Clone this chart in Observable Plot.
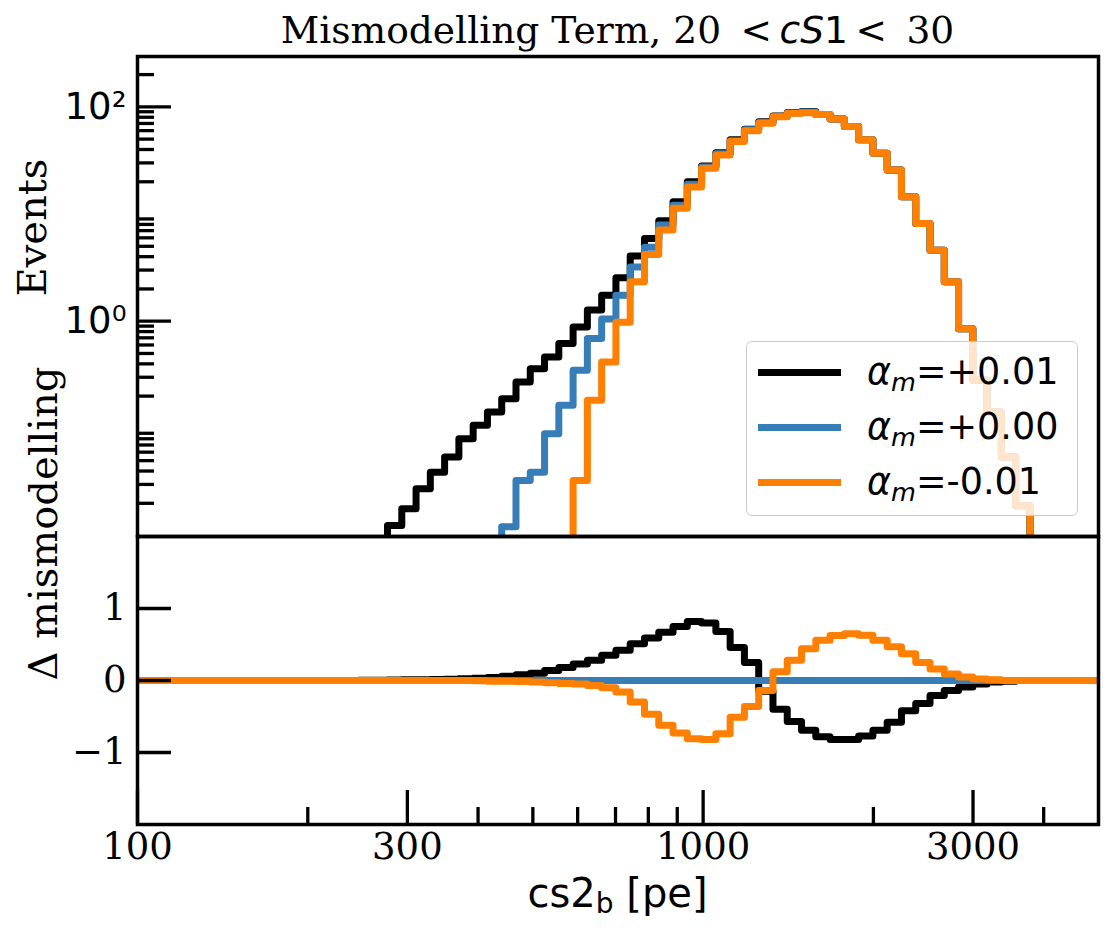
<!DOCTYPE html>
<html>
<head>
<meta charset="utf-8">
<script src="https://cdn.jsdelivr.net/npm/d3@7"></script>
<script src="https://cdn.jsdelivr.net/npm/@observablehq/plot@0.6"></script>
<style>
  body { margin: 0; background: #fff; }
  #fig { position: relative; width: 1113px; height: 934px; background: #fff; overflow: hidden; }
  #fig svg { position: absolute; left: 0; overflow: visible; background: transparent; }
  #title {
    position: absolute; left: 137px; width: 961px; top: 8px; line-height: 44px;
    text-align: center; white-space: nowrap;
    font-family: "DejaVu Serif"; font-size: 37.6px; color: #000;
  }
  .math { font-family: "DejaVu Sans"; }
  #xlabel {
    position: absolute; left: 137px; width: 961px; top: 870px; line-height: 47px;
    text-align: center; white-space: nowrap;
    font-family: "DejaVu Sans"; font-size: 40px; color: #000;
  }
  #xlabel .sub { font-size: 0.7em; vertical-align: -6px; }
  #legend {
    position: absolute; left: 746px; top: 341px; width: 330px; height: 173px;
    background: rgba(255,255,255,0.8); border: 1.5px solid #cccccc; border-radius: 6px;
  }
  #legend .row { position: absolute; left: 0; height: 50px; width: 100%; }
  #legend .swatch { position: absolute; left: 11px; top: 21.5px; width: 83px; height: 7px; }
  #legend .lbl {
    position: absolute; left: 120px; top: 0; line-height: 50px; white-space: nowrap;
    font-family: "DejaVu Sans"; font-size: 36.5px; color: #000;
  }
  #legend .msub { font-size: 0.7em; vertical-align: -7px; font-style: italic; }
</style>
</head>
<body>
<div id="fig">
  <div id="title">Mismodelling Term, 20 &#8201;<span class="math">&lt;&#8201;<i>cS</i>1&#8201;&lt;</span>&#8201; 30</div>
</div>
<script>
// Log-spaced cs2_b bins (pe)
const binLo = 97.2;
const binHi = 5058;
const nBins = 68;

// Events per bin, one value per bin
const eventsPlus = [
  0, 0, 0, 0, 0, 0, 0, 0, 0, 0, 0, 0, 0, 0, 0, 0, 0, 0,
  0.0124, 0.0178, 0.0273, 0.039, 0.054, 0.080, 0.107, 0.142, 0.189, 0.271,
  0.361, 0.464, 0.618, 0.885, 1.27, 1.75, 2.55, 4.05, 5.9, 8.65,
  13.0, 20.0, 28.1, 37.4, 49.2, 61.9, 72.8, 82.3, 88.4, 90.3,
  85, 77, 65.5, 49.2, 36.9, 25.8, 14.5, 8.18, 4.6, 2.33,
  0.85, 0.281, 0.142, 0.054, 0.019,
  0, 0, 0, 0, 0
];
const eventsZero = [
  0, 0, 0, 0, 0, 0, 0, 0, 0, 0, 0, 0, 0, 0, 0, 0, 0, 0, 0, 0, 0, 0, 0, 0, 0, 0,
  0.0121, 0.0327, 0.039, 0.089, 0.164, 0.348, 0.689, 1.05, 1.75, 3.2,
  4.9, 7.9, 12.1, 19.0, 27.5, 36.5, 48.3, 61, 71.5, 81.5,
  87.5, 89.5, 85, 77, 65.5,
  49.2, 36.9, 25.8, 14.5, 8.18, 4.6, 2.33, 0.85, 0.281, 0.142, 0.054, 0.019,
  0, 0, 0, 0, 0
];
const eventsMinus = [
  0, 0, 0, 0, 0, 0, 0, 0, 0, 0, 0, 0, 0, 0, 0, 0, 0, 0, 0, 0,
  0, 0, 0, 0, 0, 0, 0, 0, 0, 0, 0,
  0.0327, 0.183, 0.417, 0.98, 2.33, 4.2, 7.08, 11.3, 17.9, 26.7,
  35.6, 47.5, 60, 70.3, 81, 87, 88.3, 85, 77, 65.5,
  49.2, 36.9, 25.8, 14.5, 8.18, 4.6, 2.33, 0.85, 0.281, 0.142, 0.054, 0.019,
  0, 0, 0, 0, 0
];

// Mismodelling difference per bin
const deltaPlus = [
  0, 0, 0, 0, 0, 0, 0, 0, 0, 0, 0, 0, 0, 0, 0, 0,
  0.003, 0.005, 0.008, 0.01, 0.012, 0.015, 0.018, 0.025, 0.03, 0.04,
  0.06, 0.08, 0.10, 0.14, 0.18, 0.23, 0.28, 0.35, 0.42, 0.51,
  0.59, 0.67, 0.75, 0.82, 0.80, 0.68, 0.46, 0.25, -0.15, -0.40,
  -0.57, -0.69, -0.78, -0.82, -0.82, -0.77, -0.69, -0.58, -0.42, -0.32,
  -0.21, -0.14, -0.09, -0.05, -0.02, -0.01,
  0, 0, 0, 0, 0, 0
];
const deltaZero = new Array(nBins).fill(0);
const deltaMinus = [
  0, 0, 0, 0, 0, 0, 0, 0, 0, 0, 0, 0, 0, 0, 0, 0, 0, 0, 0, 0, 0, 0, 0, 0,
  -0.005, -0.01, -0.01, -0.015, -0.02, -0.03, -0.04, -0.05, -0.07, -0.10,
  -0.16, -0.30, -0.47, -0.62, -0.73, -0.81, -0.82, -0.74, -0.51, -0.36,
  -0.14, 0.12, 0.28, 0.44, 0.56, 0.625, 0.65, 0.63, 0.56, 0.47,
  0.37, 0.25, 0.16, 0.09, 0.05, 0.02, 0.01,
  0, 0, 0, 0, 0, 0, 0
];

const seriesValues = ["+0.01", "+0.00", "-0.01"];
const seriesColors = ["#000000", "#377eb8", "#ff7f00"];

// Axes
const xDomain = [100, 5000];
const eventsDomain = [0.0098, 295];
const deltaDomain = [-2, 2];
const xLabelTicks = [100, 300, 1000, 3000];
const xMinorTicks = [200, 400, 500, 600, 700, 800, 900, 2000, 4000];
const eventsMajorTicks = [1, 100];
const eventsTickLabels = {1: "10⁰", 100: "10²"};
const eventsMinorTicks = [
  0.02, 0.03, 0.04, 0.05, 0.06, 0.07, 0.08, 0.09,
  0.2, 0.3, 0.4, 0.5, 0.6, 0.7, 0.8, 0.9,
  2, 3, 4, 5, 6, 7, 8, 9,
  20, 30, 40, 50, 60, 70, 80, 90, 200
];
const deltaTicks = [-1, 0, 1];

const edges = d3.range(nBins + 1).map(i => binLo * Math.pow(binHi / binLo, i / nBins));
function steps(values) {
  const pts = values.map((v, i) => ({x: edges[i], v}));
  pts.push({x: edges[nBins], v: values[nBins - 1]});
  return pts;
}

const W = 1113;
const mL = 137, mR = 15;
const plotW = W - mL - mR;
const lw = 7, frameW = 3.5, tickW = 3.3, majLen = 34, minLen = 17;
const eventsFloor = eventsDomain[0] / 100; // empty bins fall below the frame

// Upper panel: event histograms
const topH = 540, topMT = 56, topMB = 4;
const upperPanel = Plot.plot({
  width: W, height: topH,
  marginLeft: mL, marginRight: mR, marginTop: topMT, marginBottom: topMB,
  style: {background: "transparent", overflow: "visible"},
  x: {type: "log", domain: xDomain, axis: null},
  y: {type: "log", domain: eventsDomain},
  marks: [
    [eventsPlus, eventsZero, eventsMinus].map((vals, i) =>
      Plot.line(steps(vals), {
        x: "x", y: d => Math.max(d.v, eventsFloor), curve: "step-after",
        stroke: seriesColors[i], strokeWidth: lw, strokeLinejoin: "round", clip: true
      })),
    Plot.tickY(eventsMinorTicks, {y: d => d, insetRight: plotW - minLen, stroke: "#000", strokeWidth: tickW}),
    Plot.tickY(eventsMajorTicks, {y: d => d, insetRight: plotW - majLen, stroke: "#000", strokeWidth: tickW}),
    Plot.axisY(eventsMajorTicks, {
      tickSize: 0, tickPadding: 11, tickFormat: d => eventsTickLabels[d], label: null,
      fontSize: 37, fontFamily: "DejaVu Sans", fill: "#000"
    }),
    Plot.frame({stroke: "#000", strokeWidth: frameW}),
    Plot.text(["Events"], {
      text: d => d, frameAnchor: "left", dx: -104, rotate: -90,
      fontSize: 40, fontFamily: "DejaVu Serif", fill: "#000", lineAnchor: "middle"
    })
  ]
});
upperPanel.style.top = "0px";

// Lower panel: mismodelling difference
const botTop = 530, botH = 934 - botTop, botMT = 6, botMB = 110;
const botPlotH = botH - botMT - botMB;
const lowerPanel = Plot.plot({
  width: W, height: botH,
  marginLeft: mL, marginRight: mR, marginTop: botMT, marginBottom: botMB,
  style: {background: "transparent", overflow: "visible"},
  x: {type: "log", domain: xDomain},
  y: {domain: deltaDomain},
  marks: [
    [deltaPlus, deltaZero, deltaMinus].map((vals, i) =>
      Plot.line(steps(vals), {
        x: "x", y: "v", curve: "step-after",
        stroke: seriesColors[i], strokeWidth: lw, strokeLinejoin: "round", clip: true
      })),
    Plot.tickX(xMinorTicks, {x: d => d, insetTop: botPlotH - minLen, stroke: "#000", strokeWidth: tickW}),
    Plot.tickX(xLabelTicks, {x: d => d, insetTop: botPlotH - majLen, stroke: "#000", strokeWidth: tickW}),
    Plot.tickY(deltaTicks, {y: d => d, insetRight: plotW - majLen, stroke: "#000", strokeWidth: tickW}),
    Plot.axisX(xLabelTicks, {
      tickSize: 0, tickPadding: 8, tickFormat: d => String(d), label: null,
      fontSize: 37, fontFamily: "DejaVu Serif", fill: "#000"
    }),
    Plot.axisY(deltaTicks, {
      tickSize: 0, tickPadding: 11, tickFormat: d => (d < 0 ? "\u2212" + (-d) : String(d)), label: null,
      fontSize: 37, fontFamily: "DejaVu Serif", fill: "#000"
    }),
    Plot.frame({stroke: "#000", strokeWidth: frameW}),
    Plot.text(["\u0394 mismodelling"], {
      text: d => d, frameAnchor: "left", dx: -93, rotate: -90,
      fontSize: 40, fontFamily: "DejaVu Serif", fill: "#000", lineAnchor: "middle"
    })
  ]
});
lowerPanel.style.top = botTop + "px";

const fig = document.getElementById("fig");
fig.appendChild(upperPanel);
fig.appendChild(lowerPanel);

// Axis title with subscript
const xlabel = document.createElement("div");
xlabel.id = "xlabel";
xlabel.innerHTML = 'cs2<span class="sub">b</span> [pe]';
fig.appendChild(xlabel);

// Legend
const legend = document.createElement("div");
legend.id = "legend";
const rowCenters = [30, 85, 140];
seriesValues.forEach((val, i) => {
  const row = document.createElement("div");
  row.className = "row";
  row.style.top = (rowCenters[i] - 25) + "px";
  row.innerHTML =
    `<span class="swatch" style="background:${seriesColors[i]}"></span>` +
    `<span class="lbl"><i>α</i><span class="msub">m</span>=${val}</span>`;
  legend.appendChild(row);
});
fig.appendChild(legend);
</script>
</body>
</html>
